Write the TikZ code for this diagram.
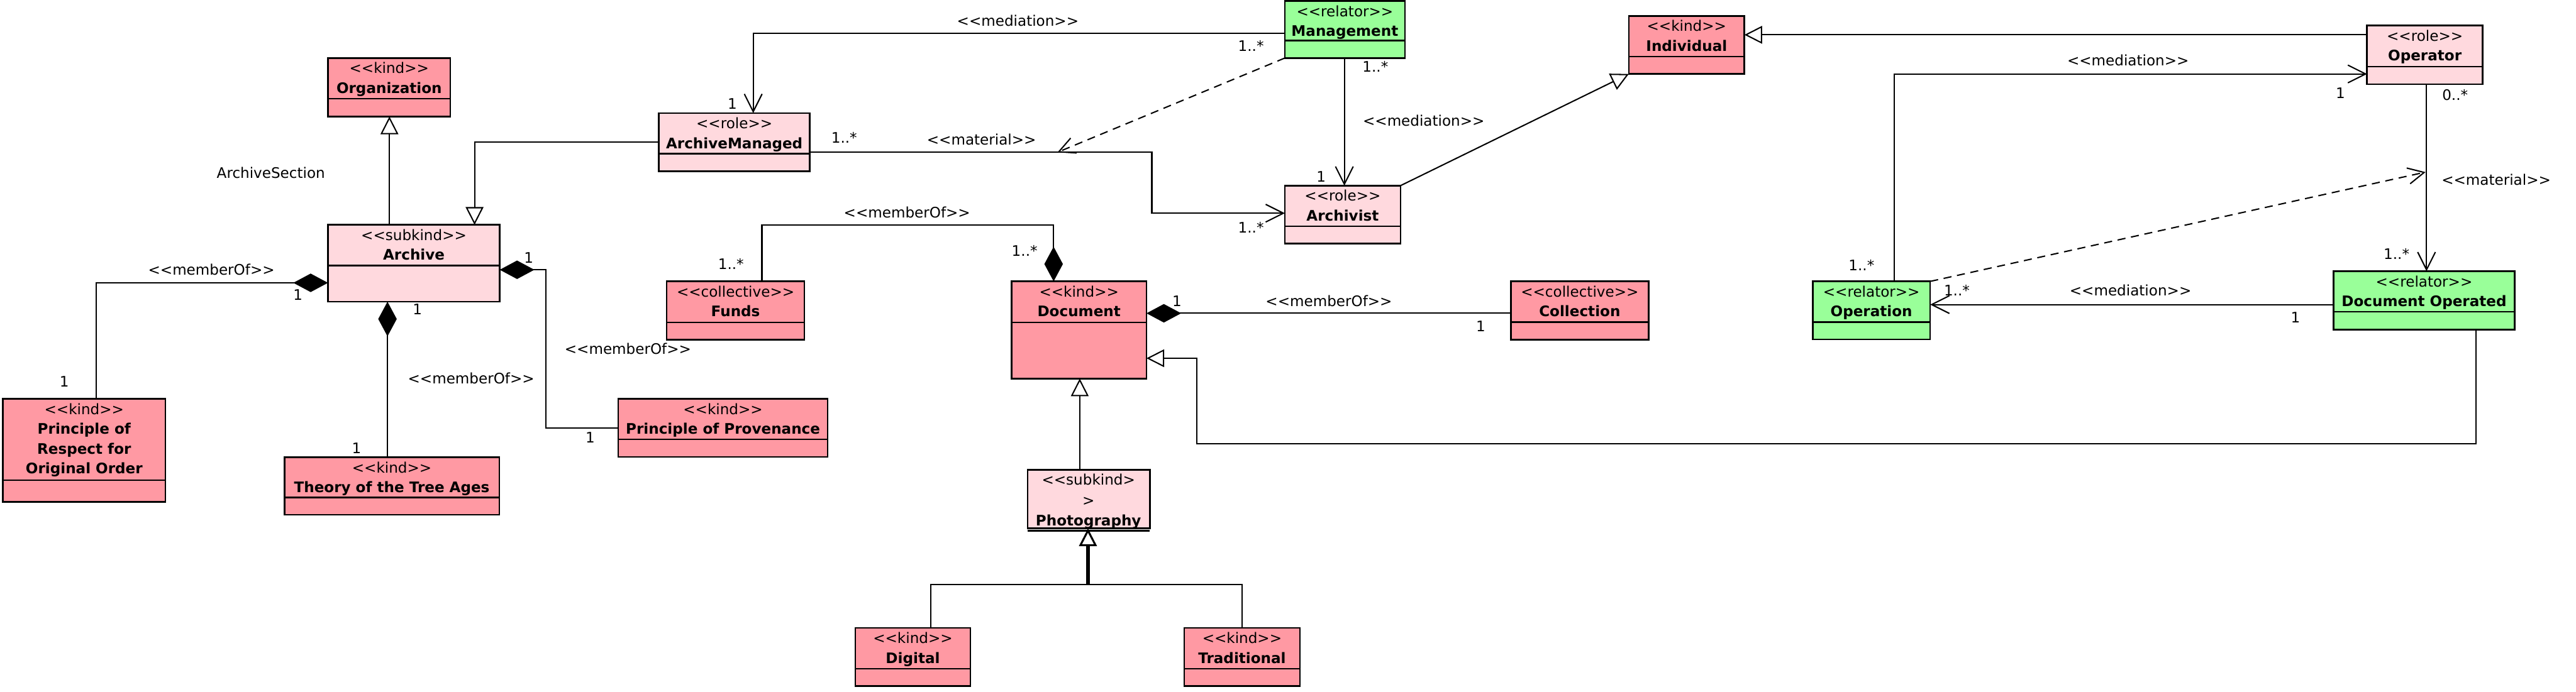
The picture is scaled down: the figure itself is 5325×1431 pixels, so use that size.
\documentclass[tikz,border=0pt]{standalone}
\usepackage{fontspec}
\setmainfont{DejaVu Sans}[Ligatures=TeXOff]
\usetikzlibrary{arrows.meta}
\definecolor{kindc}{RGB}{255,153,163}
\definecolor{rolec}{RGB}{255,217,222}
\definecolor{relc}{RGB}{153,255,153}
\tikzset{
 clsbox/.style={draw, line width=1pt, inner sep=0pt, outer sep=0pt},
 divline/.style={line width=1pt},
 stxt/.style={font=\fontsize{9}{11}\selectfont, anchor=base, inner sep=0pt},
 ntxt/.style={font=\fontsize{9}{11}\selectfont\bfseries, anchor=base, inner sep=0pt},
 lbl/.style={font=\fontsize{9}{11}\selectfont, inner sep=0pt},
 conn/.style={line width=0.8pt},
 gen/.style={conn, -{Triangle[length=11pt,width=11pt,fill=white,line width=0.8pt]}},
 genthick/.style={line width=2pt, -{Triangle[length=11pt,width=11pt,fill=white,line width=1.2pt]}},
 medi/.style={conn, -{Straight Barb[length=11pt,width=11pt,line width=0.8pt]}},
 comp/.style={conn, {Diamond[length=21.5pt,width=11.5pt]}-},
 matl/.style={conn, dash pattern=on 5pt off 3.5pt, -{Straight Barb[length=10pt,width=10pt,line width=0.8pt]}},
}
\newcommand{\umlcls}[9]{%
 \pgfmathsetmacro{\bw}{(#4-#2)*0.3}%
 \pgfmathsetmacro{\bh}{(#5-#3)*0.3}%
 \pgfmathsetmacro{\bx}{(#2+#4)/2}%
 \pgfmathsetmacro{\by}{(#3+#5)/2}%
 \node[clsbox, fill=#7, minimum width=\bw pt, minimum height=\bh pt] (#1) at (\bx,\by) {};
 \draw[divline] (#2,#6) -- (#4,#6);
 \node[stxt] (#1-s) at (\bx,{#3+32}) {#8};
 \node[ntxt] (#1-n) at (\bx,{#3+73}) {#9};
}
\begin{document}
\begin{tikzpicture}[x=0.3pt,y=-0.3pt]
\path[use as bounding box, fill=white] (0,0) rectangle (5325,1431);

% classes
\umlcls{org}{678}{120}{931}{241}{204}{kindc}{<<kind>>}{Organization}
\umlcls{archive}{678}{465}{1033}{624}{549}{rolec}{<<subkind>>}{Archive}
\umlcls{pro}{6}{825}{342}{1038}{993}{kindc}{<<kind>>}{Principle of}
\node[ntxt] (pro-n2) at (174,939) {Respect for};
\node[ntxt] (pro-n3) at (174,980) {Original Order};
\umlcls{theory}{588}{946}{1032}{1065}{1029}{kindc}{<<kind>>}{Theory of the Tree Ages}
\umlcls{pop}{1278}{825}{1711}{945}{909}{kindc}{<<kind>>}{Principle of Provenance}
\umlcls{funds}{1378}{582}{1663}{703}{667}{kindc}{<<collective>>}{Funds}
\umlcls{doc}{2091}{582}{2370}{783}{667}{kindc}{<<kind>>}{Document}
\umlcls{coll}{3123}{582}{3408}{703}{666}{kindc}{<<collective>>}{Collection}
\umlcls{digital}{1768}{1299}{2006}{1419}{1383}{kindc}{<<kind>>}{Digital}
\umlcls{trad}{2448}{1299}{2687}{1419}{1383}{kindc}{<<kind>>}{Traditional}
\umlcls{am}{1362}{234}{1674}{354}{318}{rolec}{<<role>>}{ArchiveManaged}
\umlcls{mgmt}{2656}{2}{2904}{120}{84}{relc}{<<relator>>}{Management}
\umlcls{archivist}{2656}{384}{2895}{504}{468}{rolec}{<<role>>}{Archivist}
\umlcls{indiv}{3367}{33}{3606}{153}{117}{kindc}{<<kind>>}{Individual}
\umlcls{oper}{4893}{53}{5132}{174}{138}{rolec}{<<role>>}{Operator}
\umlcls{operation}{3747}{582}{3990}{702}{666}{relc}{<<relator>>}{Operation}
\umlcls{docop}{4824}{561}{5198}{682}{645}{relc}{<<relator>>}{Document Operated}

% Photography (special)
\node[clsbox, fill=rolec, minimum width=75.9pt, minimum height=36.3pt] (photo) at (2250.5,1032.5) {};
\draw[divline] (2124,1098) -- (2377,1098);
\node[stxt] (photo-s1) at (2250,1003) {<<subkind>};
\node[stxt] (photo-s2) at (2250,1046) {>};
\node[ntxt] (photo-n) at (2250,1088) {Photography};

% bend coordinates
\coordinate (g1) at (805,300);
\coordinate (g2) at (981,294);
\coordinate (c1) at (199,585);
\coordinate (c2) at (801,800);
\coordinate (c3) at (1128,558);
\coordinate (c3b) at (1128,885);
\coordinate (c4) at (1575,465);
\coordinate (c4b) at (2178,465);
\coordinate (c5) at (2700,648);
\coordinate (g3) at (2232,900);
\coordinate (g4) at (2249,1209);
\coordinate (g4a) at (1924,1209);
\coordinate (g4b) at (2568,1209);
\coordinate (m1) at (1557,69);
\coordinate (m2) at (2779,200);
\coordinate (m3) at (2381,315);
\coordinate (m3b) at (2381,441);
\coordinate (d1) at (2186,315);
\coordinate (o1) at (4000,72);
\coordinate (o2) at (3916,153);
\coordinate (o3) at (5016,300);
\coordinate (o4) at (4400,630);
\coordinate (d2) at (5014,356);
\coordinate (o5) at (5118,918);
\coordinate (o5b) at (2474,918);
\coordinate (o5c) at (2474,741);

% connectors
\draw[gen] (archive.north -| g1) -- (org.south -| g1);
\draw[gen] (am.west |- g2) -- (g2) -- (archive.north -| g2);
\draw[comp] (archive.west |- c1) -- (c1) -- (pro.north -| c1);
\draw[comp] (archive.south -| c2) -- (theory.north -| c2);
\draw[comp] (archive.east |- c3) -- (c3) -- (c3b) -- (pop.west |- c3b);
\draw[comp] (doc.north -| c4b) -- (c4b) -- (c4) -- (funds.north -| c4);
\draw[comp] (doc.east |- c5) -- (coll.west |- c5);
\draw[gen] (photo.north -| g3) -- (doc.south -| g3);
\draw[conn] (digital.north -| g4a) -- (g4a) -- (g4b) -- (trad.north -| g4b);
\draw[genthick] (g4) -- (photo.south -| g4);
\draw[medi] (mgmt.west |- m1) -- (m1) -- (am.north -| m1);
\draw[medi] (mgmt.south -| m2) -- (archivist.north -| m2);
\draw[medi] (am.east |- m3) -- (m3) -- (m3b) -- (archivist.west |- m3b);
\draw[matl] (mgmt.south west) -- (d1);
\draw[gen] (archivist.north east) -- (indiv.south west);
\draw[gen] (oper.west |- o1) -- (indiv.east |- o1);
\draw[medi] (operation.north -| o2) -- (o2) -- (oper.west |- o2);
\draw[medi] (oper.south -| o3) -- (docop.north -| o3);
\draw[medi] (docop.west |- o4) -- (operation.east |- o4);
\draw[matl] (operation.north east) -- (d2);
\draw[gen] (docop.south -| o5) -- (o5) -- (o5b) -- (o5c) -- (doc.east |- o5c);

% labels
\node[lbl] (l1) at (560,358) {ArchiveSection};
\node[lbl] (l2) at (437,557) {<<memberOf>>};
\node[lbl] (l3) at (616,610) {1};
\node[lbl] (l4) at (133,789) {1};
\node[lbl] (l5) at (863,640) {1};
\node[lbl] (l6) at (974,783) {<<memberOf>>};
\node[lbl] (l7) at (737,927) {1};
\node[lbl] (l8) at (1093,533) {1};
\node[lbl] (l9) at (1220,905) {1};
\node[lbl] (l10) at (1298,721) {<<memberOf>>};
\node[lbl] (l11) at (1511,546) {1..*};
\node[lbl] (l12) at (1875,439) {<<memberOf>>};
\node[lbl] (l13) at (2118,519) {1..*};
\node[lbl] (l14) at (2433,623) {1};
\node[lbl] (l15) at (2747,622) {<<memberOf>>};
\node[lbl] (l16) at (3061,675) {1};
\node[lbl] (l17) at (1514,215) {1};
\node[lbl] (l18) at (2104,43) {<<mediation>>};
\node[lbl] (l19) at (1745,285) {1..*};
\node[lbl] (l20) at (2029,288) {<<material>>};
\node[lbl] (l21) at (2586,95) {1..*};
\node[lbl] (l22) at (2843,138) {1..*};
\node[lbl] (l23) at (2731,365) {1};
\node[lbl] (l24) at (2943,250) {<<mediation>>};
\node[lbl] (l25) at (2586,470) {1..*};
\node[lbl] (l26) at (4399,125) {<<mediation>>};
\node[lbl] (l27) at (4838,192) {1};
\node[lbl] (l28) at (5075,196) {0..*};
\node[lbl] (l29) at (4954,525) {1..*};
\node[lbl] (l30) at (5160,372) {<<material>>};
\node[lbl] (l31) at (3848,549) {1..*};
\node[lbl] (l32) at (4045,600) {1..*};
\node[lbl] (l33) at (4404,601) {<<mediation>>};
\node[lbl] (l34) at (4745,657) {1};
\end{tikzpicture}
\end{document}
